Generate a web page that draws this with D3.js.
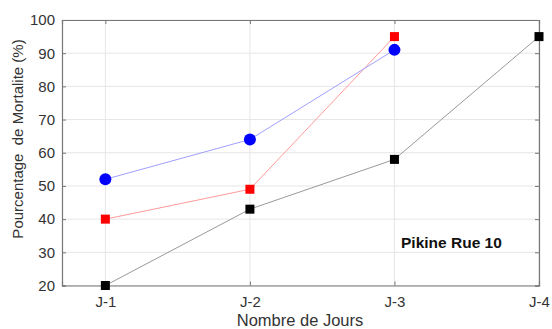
<!DOCTYPE html>
<html><head><meta charset="utf-8">
<script src="https://cdn.jsdelivr.net/npm/d3@7"></script>
<style>body{margin:0;background:#fff;}svg{display:block;font-family:"Liberation Sans",Arial,sans-serif;}</style>
</head><body><svg id="c" width="552" height="329"></svg>
<script>
const categories = ["J-1","J-2","J-3","J-4"];
const blueValues = [52, 64, 91];
const redValues = [40, 49, 95];
const blackValues = [20, 43, 58, 95];
const yTicks = [20,30,40,50,60,70,80,90,100];

const svg = d3.select("#c");
const L=62, R=539, T=20, B=285.5;
const x = d3.scaleLinear().domain([0.7, 4]).range([L, R]);
const y = d3.scaleLinear().domain([20, 100]).range([B, T]);
const xi = i => x(i+1);

// grid
svg.append("g").selectAll("line").data(yTicks).join("line")
  .attr("x1",L).attr("x2",R).attr("y1",d=>y(d)).attr("y2",d=>y(d))
  .attr("stroke","#e6e6e6").attr("stroke-width",1);
svg.append("g").selectAll("line").data(categories).join("line")
  .attr("x1",(d,i)=>xi(i)).attr("x2",(d,i)=>xi(i)).attr("y1",T).attr("y2",B)
  .attr("stroke","#e6e6e6").attr("stroke-width",1);

// axes
const axisColor="#777";
const gl = svg.append("g").attr("transform",`translate(${L},0)`)
  .call(d3.axisLeft(y).tickValues(yTicks).tickSize(-4).tickPadding(7));
const gr = svg.append("g").attr("transform",`translate(${R},0)`)
  .call(d3.axisRight(y).tickValues(yTicks).tickSize(-4).tickFormat(""));
const gb = svg.append("g").attr("transform",`translate(0,${B})`)
  .call(d3.axisBottom(x).tickValues([1,2,3,4]).tickFormat((d)=>categories[d-1]).tickSize(-4).tickPadding(11));
const gt = svg.append("g").attr("transform",`translate(0,${T})`)
  .call(d3.axisTop(x).tickValues([1,2,3,4]).tickSize(-4).tickFormat(""));
[gl,gr,gb,gt].forEach(g=>{
  g.select(".domain").attr("stroke",axisColor).attr("stroke-width",1.2);
  g.selectAll(".tick line").attr("stroke",axisColor);
  g.selectAll(".tick text").attr("fill","#333").attr("font-size",15).attr("font-family","Liberation Sans, Arial, sans-serif");
});

// lines
const line = d3.line().x(d=>xi(d.i)).y(d=>y(d.v));
const toPts = a => a.map((v,i)=>({i,v}));
svg.append("path").attr("d",line(toPts(blackValues))).attr("fill","none").attr("stroke","#999").attr("stroke-width",1);
svg.append("path").attr("d",line(toPts(redValues))).attr("fill","none").attr("stroke","#ff9a9a").attr("stroke-width",1);
svg.append("path").attr("d",line(toPts(blueValues))).attr("fill","none").attr("stroke","#a0a0ff").attr("stroke-width",1);

// markers
svg.append("g").selectAll("rect").data(toPts(blackValues)).join("rect")
  .attr("x",d=>xi(d.i)-4.5).attr("y",d=>y(d.v)-4.5).attr("width",9).attr("height",9).attr("fill","#000");
svg.append("g").selectAll("rect").data(toPts(redValues)).join("rect")
  .attr("x",d=>xi(d.i)-4.5).attr("y",d=>y(d.v)-4.5).attr("width",9).attr("height",9).attr("fill","#ff0000");
svg.append("g").selectAll("circle").data(toPts(blueValues)).join("circle")
  .attr("cx",d=>xi(d.i)).attr("cy",d=>y(d.v)).attr("r",6).attr("fill","#0000ff");

// annotation
svg.append("text").attr("x",401).attr("y",248).attr("font-size",15.5).attr("font-weight","bold").attr("fill","#111").text("Pikine Rue 10");

// axis labels
svg.append("text").attr("x",300).attr("y",326).attr("text-anchor","middle").attr("font-size",16.5).attr("fill","#333").text("Nombre de Jours");
svg.append("text").attr("transform",`translate(23,139) rotate(-90)`).attr("text-anchor","middle").attr("font-size",15).attr("fill","#333").style("white-space","pre").text("Pourcentage  de Mortalite (%)");
</script></body></html>
